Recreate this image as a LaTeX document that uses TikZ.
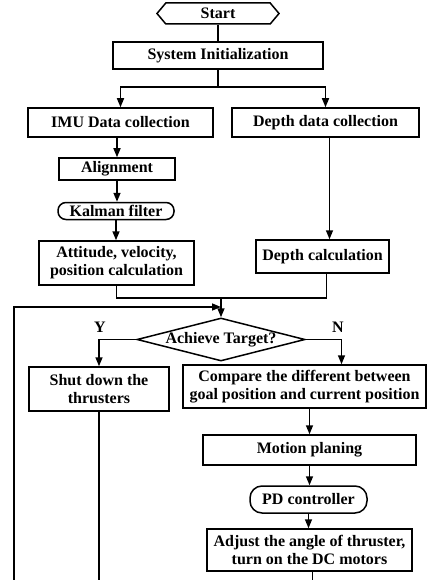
\documentclass[tikz,border=0pt]{standalone}
\usepackage{fontspec}
\setmainfont{Liberation Serif}
\usetikzlibrary{arrows.meta,shapes.geometric,shapes.symbols}
\begin{document}
\begin{tikzpicture}[x=1pt,y=1pt,
  font=\fontsize{16}{18}\selectfont\bfseries,
  line width=1.5pt,
  box/.style={draw, rectangle, inner sep=0pt, align=center},
  rbox/.style={draw, rectangle, rounded corners=8pt, inner sep=0pt, align=center},
  arr/.style={-{Triangle[length=9pt,width=7pt]}},
  lab/.style={inner sep=0pt}
]
\useasboundingbox (0,0) rectangle (427,-580);
% nodes
\node[draw, signal, signal to=west and east, signal pointer angle=100,
      minimum width=122pt, minimum height=21pt, inner sep=0pt] (start) at (218,-13.5) {Start};
\node[box, minimum width=210pt, minimum height=27pt] (init) at (218,-55.5) {System Initialization};
\node[box, minimum width=185pt, minimum height=29pt] (imu) at (120.5,-122.5) {IMU Data collection};
\node[box, minimum width=187pt, minimum height=29pt] (depth) at (325.5,-122.5) {Depth data collection};
\node[box, minimum width=116pt, minimum height=22pt] (align) at (117,-169) {Alignment};
\node[rbox, minimum width=116pt, minimum height=17pt] (kalman) at (116,-211) {Kalman filter};
\node[box, minimum width=155pt, minimum height=44pt] (att) at (116.5,-263) {Attitude, velocity,\\position calculation};
\node[box, minimum width=133pt, minimum height=33pt] (dcalc) at (322.5,-256.5) {Depth calculation};
\node[draw, diamond, minimum width=168pt, minimum height=43pt, inner sep=0pt] (dec) at (221,-339.5) {};
\node[lab] (dectext) at (dec) {Achieve Target?};
\node[box, minimum width=140pt, minimum height=44pt] (shut) at (99,-389) {Shut down the\\thrusters};
\node[box, minimum width=243pt, minimum height=43pt] (comp) at (304.5,-386.5) {Compare the different between\\goal position and current position};
\node[box, minimum width=213pt, minimum height=30pt] (motion) at (309.5,-450) {Motion planing};
\node[rbox, minimum width=117pt, minimum height=27pt, rounded corners=12pt] (pd) at (308.5,-499.5) {PD controller};
\node[box, minimum width=205pt, minimum height=42pt] (adj) at (309.5,-550) {Adjust the angle of thruster,\\turn on the DC motors};
\node[lab] (ylab) at (100,-327) {Y};
\node[lab] (nlab) at (338,-327) {N};
% helper coordinates
\coordinate (sp) at (218,-87);
\coordinate (m) at (221,-298);
\coordinate (lp) at (221,-307);
\coordinate (lb) at (14,-580);
% connectors
\draw (start.south) -- (init.north);
\draw[arr] (init.south) -- (sp) -| (imu.north);
\draw[arr] (sp) -| (depth.north);
\draw[arr] (imu.south -| align.north) -- (align.north);
\draw[arr] (align.south) -- (align.south |- kalman.north);
\draw[arr] (kalman.south) -- (kalman.south |- att.north);
\draw[arr] ([xshift=4pt]depth.south) -- ([xshift=4pt]depth.south |- dcalc.north);
\draw (att.south) |- (m);
\draw ([xshift=4pt]dcalc.south) |- (m);
\draw[arr] (m) -- (dec.north);
\draw[arr] (lb) |- (lp);
\draw[arr] (dec.west) -| (shut.north);
\draw[arr] (dec.east) -| ([xshift=37pt]comp.north);
\draw[arr] (comp.south -| motion.north) -- (motion.north);
\draw[arr] (motion.south) -- (motion.south |- pd.north);
\draw[arr] (pd.south) -- (pd.south |- adj.north);
\draw (shut.south) -- (shut.south |- lb);
\draw ([xshift=3pt]adj.south) -- ([xshift=3pt]adj.south |- lb);
\end{tikzpicture}
\end{document}
